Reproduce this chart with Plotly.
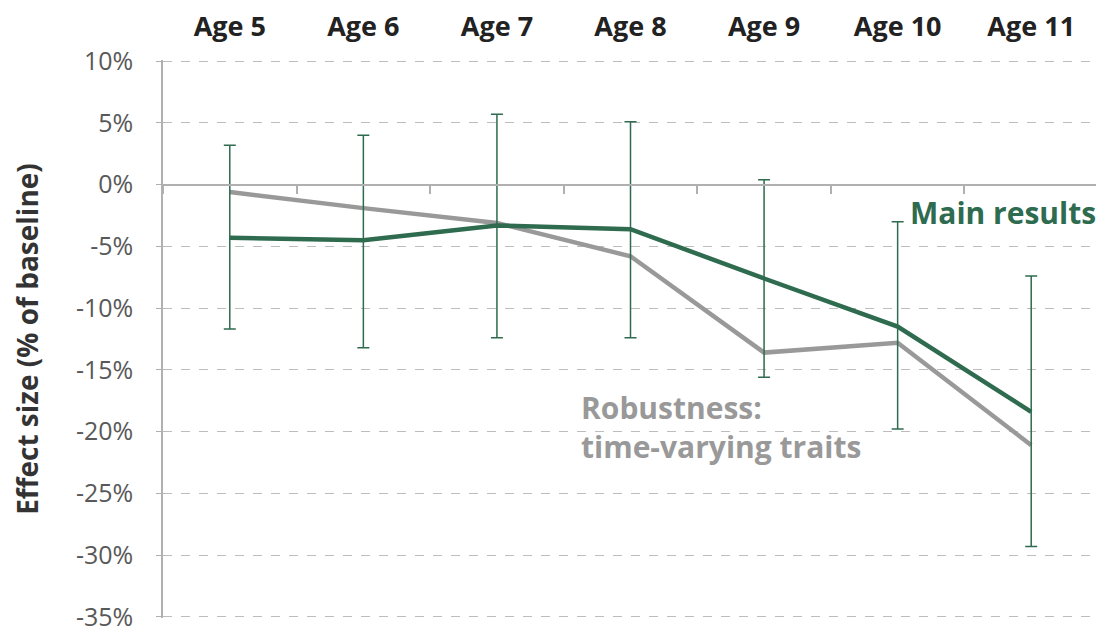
import plotly.graph_objects as go

AGES = ["Age 5", "Age 6", "Age 7", "Age 8", "Age 9", "Age 10", "Age 11"]

# effect sizes, % of baseline
MAIN = [-4.3, -4.5, -3.3, -3.6, -7.6, -11.5, -18.4]
MAIN_HI = [3.2, 4.0, 5.7, 5.1, 0.4, -3.0, -7.4]
MAIN_LO = [-11.7, -13.2, -12.4, -12.4, -15.6, -19.8, -29.3]
ROBUST = [-0.6, -1.9, -3.1, -5.8, -13.6, -12.8, -21.1]

Y_TICKS = [10, 5, 0, -5, -10, -15, -20, -25, -30, -35]
Y_LABELS = ["10%", "5%", "0%", "-5%", "-10%", "-15%", "-20%", "-25%", "-30%", "-35%"]

GREEN = "#2e6b4f"
GREY = "#999999"
AXIS = "#b0b0b0"
FONT = "Open Sans"

err_plus = [h - m for h, m in zip(MAIN_HI, MAIN)]
err_minus = [m - l for m, l in zip(MAIN, MAIN_LO)]

fig = go.Figure()

# invisible copy so the zero-line axis with the boundary ticks gets drawn
fig.add_trace(go.Scatter(x=AGES, y=MAIN, xaxis="x2", mode="lines",
                         line=dict(color="rgba(0,0,0,0)"), hoverinfo="skip",
                         showlegend=False))

fig.add_trace(go.Scatter(x=AGES, y=ROBUST, mode="lines",
                         line=dict(color=GREY, width=4.5),
                         name="Robustness", showlegend=False))

fig.add_trace(go.Scatter(x=AGES, y=MAIN, mode="lines",
                         line=dict(color=GREEN, width=4.5),
                         error_y=dict(type="data", symmetric=False,
                                      array=err_plus, arrayminus=err_minus,
                                      color=GREEN, thickness=1.5, width=6),
                         name="Main results", showlegend=False))

fig.add_annotation(x=1, xref="paper", y=-2.25, yref="y", text="<b>Main results</b>",
                   showarrow=False, xanchor="right", yanchor="middle",
                   font=dict(family=FONT, size=30, color=GREEN))
fig.add_annotation(x="Age 8", y=-19.65, text="<b>Robustness:<br>time-varying traits</b>",
                   showarrow=False, xanchor="left", yanchor="middle", align="left",
                   xshift=-52,
                   font=dict(family=FONT, size=30, color=GREY))

# page body adds an 8px offset, so the figure is a little smaller than the window
fig.update_layout(
    width=1096, height=622,
    margin=dict(l=155, r=6, t=52, b=12),
    paper_bgcolor="white", plot_bgcolor="white",
    font=dict(family=FONT, color="#595959"),
    xaxis=dict(type="category", categoryarray=AGES, range=[-0.5, 6.5],
               side="top", showgrid=False, ticks="", showline=False,
               zeroline=False, ticklabelstandoff=18, automargin=False,
               tickfont=dict(family=FONT, size=27, color="#222222"),
               tickprefix="<b>", ticksuffix="</b>"),
    xaxis2=dict(type="category", categoryarray=AGES, range=[-0.5, 6.5],
                overlaying="x", anchor="free", position=35.1 / 45.2,
                showticklabels=False, showgrid=False, showline=True,
                linecolor=AXIS, linewidth=1.5, ticks="outside", automargin=False,
                tickson="boundaries", ticklen=9, tickcolor=AXIS, tickwidth=1.5),
    yaxis=dict(range=[-35.1, 10.1], tickmode="array", tickvals=Y_TICKS,
               ticktext=Y_LABELS, automargin=False, ticklabelstandoff=18,
               ticklabeloverflow="allow",
               showgrid=True, gridcolor="#bdbdbd", griddash="dash", gridwidth=1,
               zeroline=False, showline=True, linecolor=AXIS, linewidth=1.5,
               ticks="outside", ticklen=5, tickcolor=AXIS,
               tickfont=dict(family=FONT, size=25, color="#595959"),
               title=dict(text="<b>Effect size (% of baseline)</b>", standoff=43,
                          font=dict(family=FONT, size=28, color="#333333"))),
)

fig.write_html("out.html")
